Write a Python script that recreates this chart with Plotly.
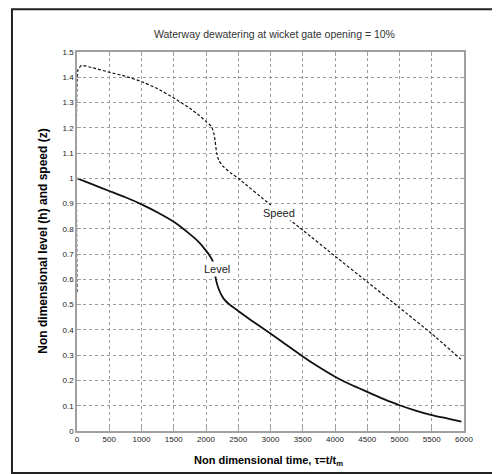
import plotly.graph_objects as go

# Data
t_speed = [0, 15, 70, 250, 500, 750, 1000, 1250, 1500, 1750, 1900, 2000, 2050, 2088, 2120,
           2140, 2166, 2200, 2270, 2380, 2500, 3000, 3500, 4000, 4500, 5000, 5500, 5950]
speed = [0.55, 1.43, 1.447, 1.437, 1.42, 1.404, 1.383, 1.355, 1.318, 1.277, 1.248, 1.225,
         1.214, 1.204, 1.18, 1.151, 1.099, 1.07, 1.046, 1.022, 1.0, 0.895, 0.795, 0.692,
         0.59, 0.488, 0.385, 0.284]

t_level = [0, 250, 500, 750, 1000, 1250, 1500, 1750, 1900, 2000, 2050, 2100, 2130, 2155,
           2200, 2270, 2372, 2500, 2750, 3000, 3250, 3500, 3750, 4000, 4250, 4500, 4750,
           5000, 5250, 5500, 5750, 5960]
level = [1.0, 0.975, 0.95, 0.925, 0.897, 0.865, 0.828, 0.779, 0.745, 0.714, 0.697, 0.675,
         0.64, 0.598, 0.56, 0.525, 0.499, 0.475, 0.429, 0.386, 0.34, 0.295, 0.253, 0.215,
         0.183, 0.155, 0.127, 0.102, 0.081, 0.063, 0.049, 0.037]

x_ticks = list(range(0, 6001, 500))
y_ticks = [0, 0.1, 0.2, 0.3, 0.4, 0.5, 0.6, 0.7, 0.8, 0.9, 1, 1.1, 1.2, 1.3, 1.4, 1.5]
y_tick_text = ["0", "0.1", "0.2", "0.3", "0.4", "0.5", "0.6", "0.7", "0.8", "0.9", "1",
               "1.1", "1.2", "1.3", "1.4", "1.5"]

title_text = "Waterway dewatering at wicket gate opening = 10%"
x_title = "<b>Non dimensional time, τ=t/t<sub>m</sub></b>"
y_title = "<b>Non dimensional level (h) and speed (z)</b>"

narrow = "Liberation Sans Narrow, Arial Narrow, Liberation Sans, Arial, sans-serif"
sans = "Liberation Sans, Arial, sans-serif"

fig = go.Figure()
fig.add_trace(go.Scatter(x=t_speed, y=speed, mode="lines",
                         line=dict(color="#111111", width=1.2, dash="3px,2px",
                                   shape="spline", smoothing=0.4),
                         showlegend=False, hoverinfo="skip"))
fig.add_trace(go.Scatter(x=t_level, y=level, mode="lines",
                         line=dict(color="#111111", width=1.8, shape="spline",
                                   smoothing=0.5),
                         showlegend=False, hoverinfo="skip"))

axis_common = dict(
    showgrid=True, gridcolor="#9a9a9a", griddash="dot", gridwidth=1,
    showline=True, linecolor="#a0a0a0", linewidth=1.5, mirror="ticks",
    ticks="inside", ticklen=4, tickcolor="#a0a0a0",
    tickfont=dict(family=narrow, size=8, color="#222222"),
    zeroline=False,
)

fig.update_xaxes(range=[0, 6000], tickvals=x_ticks, ticktext=[str(v) for v in x_ticks],
                 **axis_common)
fig.update_yaxes(range=[0, 1.5], tickvals=y_ticks, ticktext=y_tick_text, **axis_common)

fig.add_annotation(x=3132, y=0.863, xref="x", yref="y", text="Speed", showarrow=False,
                   font=dict(family=sans, size=11, color="#222222"), bgcolor="white",
                   borderpad=1)
fig.add_annotation(x=2163, y=0.641, xref="x", yref="y", text="Level", showarrow=False,
                   font=dict(family=sans, size=11, color="#222222"), bgcolor="white",
                   borderpad=1)

fig.add_annotation(x=0.51, y=1.047, xref="paper", yref="paper", text=title_text,
                   showarrow=False, font=dict(family=sans, size=10.5, color="#333333"),
                   xanchor="center", yanchor="middle")
fig.add_annotation(x=0.495, y=-0.08, xref="paper", yref="paper", text=x_title,
                   showarrow=False, font=dict(family=sans, size=11, color="#000000"),
                   xanchor="center", yanchor="middle")
fig.add_annotation(x=-0.09, y=0.5, xref="paper", yref="paper",
                   text=y_title, textangle=-90,
                   showarrow=False, font=dict(family=sans, size=12, color="#000000"),
                   xanchor="center", yanchor="middle")

# outer frame
fig.add_shape(type="rect", xref="paper", yref="paper",
              x0=-0.168, x1=1.085, y0=-0.111, y1=1.113,
              line=dict(color="#222222", width=2), layer="below")

# the page adds an 8px body margin, so margins are reduced by 8px on the left/top
fig.update_layout(
    width=500, height=474,
    margin=dict(l=69, r=44, t=44, b=51),
    paper_bgcolor="white", plot_bgcolor="white",
    showlegend=False,
)

fig.write_html("out.html")
